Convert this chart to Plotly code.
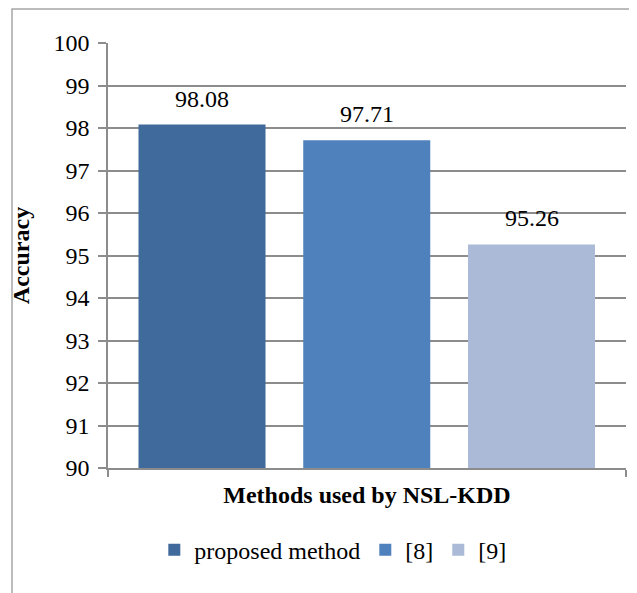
import plotly.graph_objects as go

methods = ["proposed method", "[8]", "[9]"]
accuracy = [98.08, 97.71, 95.26]
colors = ["#40699C", "#4F81BD", "#AABAD7"]
y_ticks = [90, 91, 92, 93, 94, 95, 96, 97, 98, 99, 100]

FONT = "Liberation Serif"
FS = 24

fig = go.Figure()
for i, (m, v, c) in enumerate(zip(methods, accuracy, colors)):
    fig.add_trace(go.Bar(
        x=[i], y=[v - 90], base=90, name=m, marker_color=c, width=0.771,
        marker_line_width=0,
    ))
    fig.add_annotation(x=i, y=v, text=f"{v:.2f}", showarrow=False,
                       yanchor="bottom", yshift=11,
                       font=dict(family=FONT, size=FS, color="black"))

xr = [-0.5706, 2.5736]
fig.update_layout(
    width=637, height=593,
    margin=dict(l=100, r=19, t=35, b=133),
    paper_bgcolor="white", plot_bgcolor="white",
    font=dict(family=FONT, size=FS, color="black"),
    barmode="overlay",
    xaxis=dict(range=xr, showgrid=False, zeroline=False, showline=True,
               linecolor="#8C8C8C", linewidth=1.5,
               tickvals=[xr[0] + 0.002, xr[1] - 0.002], ticktext=["", ""],
               ticks="outside", ticklen=7, tickcolor="#8C8C8C", tickwidth=1.5,
               title=dict(text="<b>Methods used by NSL-KDD</b>", font=dict(size=FS), standoff=6)),
    yaxis=dict(range=[90, 100], tickvals=y_ticks, showgrid=True, gridcolor="#8C8C8C",
               gridwidth=1.5, zeroline=False, showline=True, linecolor="#8C8C8C",
               linewidth=1.5, ticks="outside", ticklen=8, tickcolor="#8C8C8C", tickwidth=1.5,
               tickfont=dict(size=FS), ticklabelstandoff=4,
               title=dict(text="<b>Accuracy</b>", font=dict(size=FS), standoff=17)),
    legend=dict(orientation="h", x=0.434, xanchor="center", y=-0.193, yanchor="middle",
                font=dict(size=FS), itemwidth=30, bgcolor="rgba(0,0,0,0)"),
    shapes=[dict(type="rect", xref="paper", yref="paper", x0=-0.1853, x1=1.2,
                 y0=-0.6, y1=1.08, line=dict(color="#A6A6A6", width=1.5),
                 fillcolor="rgba(0,0,0,0)", layer="below")],
)
fig.write_html("out.html")
